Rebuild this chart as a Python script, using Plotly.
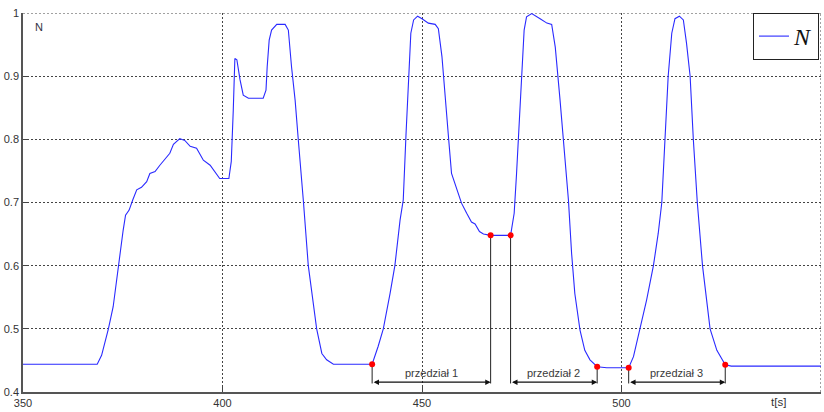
import plotly.graph_objects as go

# ---- data ----
t = [350, 368.6, 369.7, 371.4, 372.6, 373.9, 375.1, 375.7, 376.6, 377.5, 378.5, 379.7,
     381.0, 381.8, 383.1, 384.3, 386.8, 387.7, 388.3, 389.3, 390.6, 391.9, 393.5, 395.2,
     396.9, 398.4, 399.3, 401.6, 402.2, 402.7, 403.1, 403.6, 404.4, 405.2, 406.5, 410.2,
     410.9, 411.2, 411.7, 412.3, 413.6, 415.7, 416.5, 417.3, 418.2, 419.0, 419.8, 420.3,
     421.5, 422.8, 423.6, 424.9, 426.1, 427.8, 437.5, 439.0, 440.3, 442.0, 443.2, 444.5,
     445.3, 446.0, 446.6, 447.2, 447.9, 448.9, 450.0, 451.6, 453.3, 454.1, 455.0, 455.8,
     456.7, 457.4, 458.7, 459.9, 461.2, 462.4, 463.3, 464.4, 465.4, 467.2, 472.2, 473.1,
     473.7, 474.4, 475.0, 475.6, 476.2, 477.5, 479.6, 481.3, 482.5, 483.4, 484.6, 485.8,
     486.7, 487.5, 488.3, 489.6, 490.8, 492.1, 493.9, 496.3, 501.8, 503.0, 504.6, 506.3,
     508.0, 509.2, 510.1, 510.9, 511.7, 512.6, 513.4, 514.5, 515.5, 516.3, 517.2, 518.0,
     519.0, 520.3, 522.2, 523.9, 526.0, 527.5, 550]
N = [0.444, 0.444, 0.458, 0.500, 0.535, 0.600, 0.656, 0.680, 0.688, 0.704, 0.720, 0.724,
     0.733, 0.746, 0.749, 0.759, 0.778, 0.792, 0.795, 0.801, 0.798, 0.789, 0.786, 0.767,
     0.759, 0.746, 0.738, 0.738, 0.765, 0.846, 0.928, 0.926, 0.894, 0.870, 0.865, 0.865,
     0.878, 0.915, 0.957, 0.973, 0.982, 0.982, 0.973, 0.915, 0.862, 0.799, 0.741, 0.700,
     0.600, 0.535, 0.500, 0.461, 0.451, 0.444, 0.444, 0.472, 0.500, 0.556, 0.600, 0.672,
     0.704, 0.809, 0.899, 0.968, 0.989, 0.995, 0.991, 0.984, 0.982, 0.975, 0.931, 0.862,
     0.799, 0.746, 0.720, 0.699, 0.683, 0.669, 0.666, 0.654, 0.650, 0.648, 0.648, 0.683,
     0.746, 0.836, 0.915, 0.973, 0.994, 0.999, 0.991, 0.984, 0.982, 0.946, 0.862, 0.772,
     0.704, 0.619, 0.556, 0.498, 0.466, 0.451, 0.440, 0.4385, 0.4385, 0.456, 0.500, 0.546,
     0.600, 0.651, 0.700, 0.800, 0.900, 0.968, 0.991, 0.995, 0.989, 0.952, 0.900, 0.800,
     0.700, 0.600, 0.500, 0.466, 0.443, 0.441, 0.441]

dot_t = [437.5, 467.2, 472.2, 493.9, 501.8, 526.0]
dot_N = [0.444, 0.648, 0.648, 0.440, 0.4385, 0.443]

interval_start = [437.5, 472.2, 501.8]
interval_end = [467.2, 493.9, 526.0]
interval_labels = ["przedział 1", "przedział 2", "przedział 3"]
arrow_level = 0.4155
label_level = 0.4295
line_bottom = 0.4135

x_ticks = [350, 400, 450, 500, 550]
y_ticks = [0.4, 0.5, 0.6, 0.7, 0.8, 0.9, 1.0]
y_tick_text = ["0.4", "0.5", "0.6", "0.7", "0.8", "0.9", "1"]

GRID = dict(color="#444444", width=1, dash="2px,2px")

fig = go.Figure()

# vertical marker lines from dots down to arrow level
vx, vy = [], []
for tx, ny in zip(dot_t, dot_N):
    vx += [tx, tx, None]
    vy += [ny, line_bottom, None]
fig.add_trace(go.Scatter(x=vx, y=vy, mode="lines", line=dict(color="#222222", width=1),
                         showlegend=False, hoverinfo="skip"))

fig.add_trace(go.Scatter(x=t, y=N, mode="lines", name="N",
                         line=dict(color="#2a2aff", width=1.1)))

fig.add_trace(go.Scatter(x=dot_t, y=dot_N, mode="markers", showlegend=False,
                         marker=dict(color="red", size=6)))

for s, e, lab in zip(interval_start, interval_end, interval_labels):
    fig.add_annotation(x=e, y=arrow_level, ax=s, ay=arrow_level, xref="x", yref="y",
                       axref="x", ayref="y", text="", showarrow=True,
                       arrowhead=2, arrowside="end+start", arrowsize=0.9,
                       arrowwidth=1.2, arrowcolor="#111111")
    fig.add_annotation(x=(s + e) / 2, y=label_level, xref="x", yref="y", text=lab,
                       showarrow=False, font=dict(family="Arial", size=11, color="#3a3a3a"))

# boundary gridlines (top and right) that plotly skips at the range edges
fig.add_shape(type="line", xref="x", yref="y", x0=x_ticks[0], x1=x_ticks[-1],
              y0=y_ticks[-1], y1=y_ticks[-1], line=GRID, layer="below")
fig.add_shape(type="line", xref="x", yref="y", x0=x_ticks[-1], x1=x_ticks[-1],
              y0=y_ticks[0], y1=y_ticks[-1], line=GRID, layer="below")

fig.add_annotation(xref="paper", yref="paper", x=0.012, y=0.985, xanchor="left", yanchor="top",
                   text="N", showarrow=False, font=dict(family="Arial", size=11, color="#333344"))
fig.add_annotation(xref="paper", yref="paper", x=0.947, y=-0.006, xanchor="center", yanchor="top",
                   text="t[s]", showarrow=False, font=dict(family="Arial", size=11.5, color="#333333"))

fig.update_layout(
    width=824, height=412,
    margin=dict(l=23, r=3, t=13, b=20, autoexpand=False),
    paper_bgcolor="white", plot_bgcolor="white",
    showlegend=True,
    legend=dict(x=0.9975, y=1, xanchor="right", yanchor="top",
                bgcolor="white", bordercolor="#222222", borderwidth=1,
                font=dict(family="Liberation Serif", size=24, color="#111111", style="italic")),
    xaxis=dict(range=[350, 550], tickvals=x_ticks, showgrid=True, automargin=False,
               gridcolor="#444444", griddash="2px,2px", gridwidth=1,
               showline=True, linecolor="#555555", linewidth=1.5,
               ticks="inside", ticklen=5, tickcolor="#444444",
               tickfont=dict(family="Arial", size=11, color="#333333"),
               zeroline=False),
    yaxis=dict(range=[0.4, 1.0], tickvals=y_ticks, ticktext=y_tick_text, showgrid=True,
               automargin=False,
               gridcolor="#444444", griddash="2px,2px", gridwidth=1,
               showline=True, linecolor="#555555", linewidth=1.5,
               ticks="inside", ticklen=5, tickcolor="#444444",
               tickfont=dict(family="Arial", size=11, color="#333333"),
               zeroline=False),
)

fig.write_html("out.html", config={"displayModeBar": False},
               post_script="document.body.style.margin='0';document.body.style.padding='0';")
